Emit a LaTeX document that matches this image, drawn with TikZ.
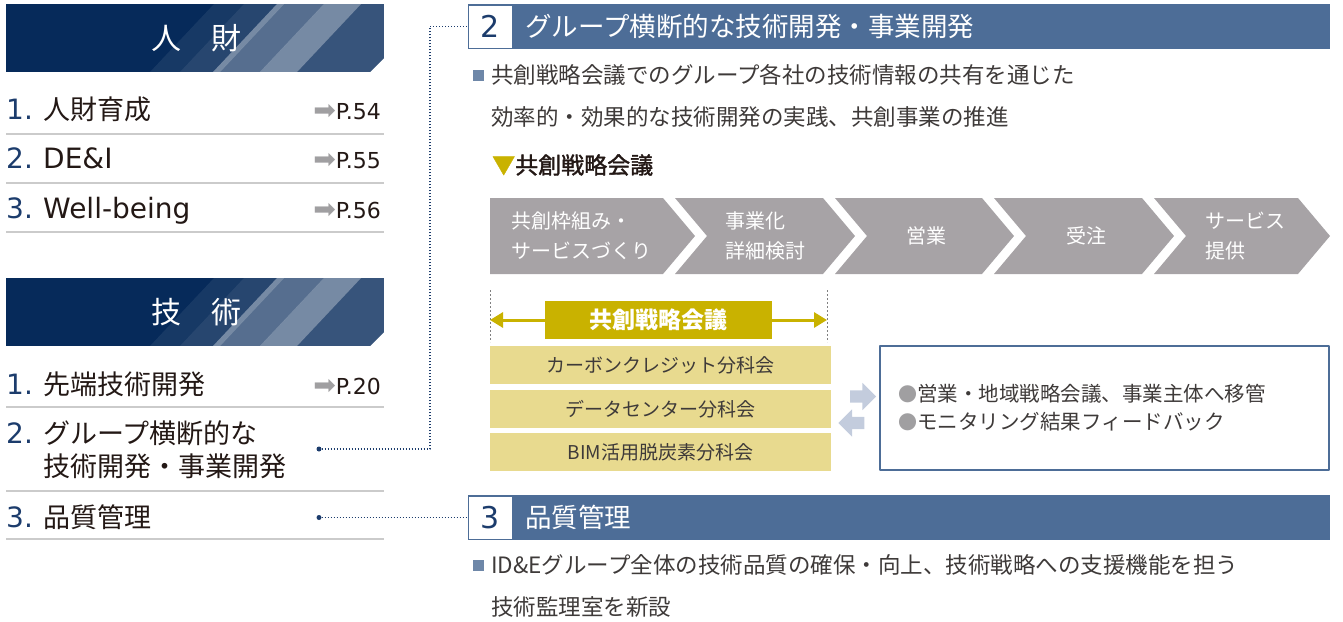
\documentclass[tikz,border=0pt]{standalone}
\usepackage{fontspec}
\setmainfont{Noto Sans CJK JP}
\newfontfamily\latfont{DejaVu Sans}
\newfontfamily\medfont{Noto Sans CJK JP}[FakeBold=1.6]
\usepackage{tikz}
\usetikzlibrary{arrows.meta,shapes.arrows}
\definecolor{navybase}{HTML}{062A5A}
\definecolor{numnavy}{HTML}{1C3C6C}
\definecolor{itemtext}{HTML}{231815}
\definecolor{bodytext}{HTML}{3E3A39}
\definecolor{pagegray}{HTML}{A09FA1}
\definecolor{rulegray}{HTML}{CBCBCB}
\definecolor{headblue}{HTML}{4D6D97}
\definecolor{bulletblue}{HTML}{6E87A8}
\definecolor{councilgold}{HTML}{C9B200}
\definecolor{groupyellow}{HTML}{E8DA8F}
\definecolor{flowgray}{HTML}{A7A3A6}
\definecolor{swapblue}{HTML}{C3CCDD}
\newcommand{\fsz}[2]{\fontsize{#1}{#2}\selectfont}
\newcommand{\pgarrow}{{\fsz{27}{26}\color{pagegray}➡}}
\newcommand{\dotmark}{{\fsz{19}{28}\color{pagegray}●}}

\begin{document}
\begin{tikzpicture}[line join=bevel,x=1pt,y=-1pt,
  every node/.style={inner sep=0pt},
  itemnum/.style={anchor=base west,text=numnavy,font=\latfont\fsz{28}{33}},
  itemtxt/.style={anchor=base west,text=itemtext,font=\fsz{27}{33}},
  itemlat/.style={anchor=base west,text=itemtext,font=\latfont\fsz{28}{33}},
  pageref/.style={anchor=base east,text=itemtext,font=\latfont\fsz{22}{26}},
  itemrule/.style={draw=rulegray,line width=2pt},
  linkdot/.style={circle,fill=numnavy,minimum size=5pt},
  linkline/.style={draw=numnavy,line width=1.2pt,dash pattern=on 1.2pt off 1.8pt},
  headbar/.style={fill=headblue,minimum width=862pt,minimum height=45pt},
  numbox/.style={fill=white,draw=headblue,line width=1pt,minimum width=44pt,minimum height=43pt,text=numnavy,font=\latfont\fsz{30}{34}},
  headtxt/.style={anchor=west,text=white,font=\fsz{26.5}{30}},
  bulletsq/.style={fill=bulletblue,minimum size=11pt},
  bodyline/.style={anchor=west,text=bodytext,font=\fsz{22.5}{28}},
  steptext/.style={text=white,align=left,font=\fsz{20}{30}},
  guide/.style={draw=gray,line width=0.8pt,dash pattern=on 2pt off 2pt},
  goldarrow/.style={draw=councilgold,line width=3pt,-{Triangle[length=13pt,width=15pt]}},
  groupbox/.style={fill=groupyellow,minimum width=341pt,minimum height=38pt,text=bodytext,font=\fsz{19}{23}},
  swaparrow/.style={single arrow,fill=swapblue,inner xsep=0pt,inner ysep=6pt,minimum height=26pt,single arrow head extend=7.5pt}]
\useasboundingbox (0,0) rectangle (1343,621);
%%
% Node: section banners
\foreach \ya/\lbl/\nm in {4/人　財/jinzai,278/技　術/gijutsu}{
  \begin{scope}
    \clip (6,\ya) -- (384,\ya) -- (384,\ya+54) -- (370,\ya+68) -- (6,\ya+68) -- cycle;
    \fill[navybase] (6,\ya) rectangle (384,\ya+68);
    \foreach \a/\b/\op in {150/213/0.07,180/213/0.07,213/220/0.45,220/260/0.32,260/297/0.45,297/420/0.2}
      \fill[white,fill opacity=\op] (\a,\ya+68) -- (\a+64,\ya) -- (\b+64,\ya) -- (\b,\ya+68) -- cycle;
  \end{scope}
  \node[text=white,font=\fsz{30}{36}] (\nm) at (196,\ya+34) {\lbl};
}
% Node: jinzai items
\node[itemnum] (j1n) at (6,119) {1.};
\node[itemtxt] (j1) at (43,119) {人財育成};
\node[pageref] (j1p) at (381,119) {\pgarrow P.54};
\draw[itemrule] (6,134) -- (384,134);
\node[itemnum] (j2n) at (6,168) {2.};
\node[itemlat] (j2) at (43,168) {DE\&I};
\node[pageref] (j2p) at (381,168) {\pgarrow P.55};
\draw[itemrule] (6,183) -- (384,183);
\node[itemnum] (j3n) at (6,218) {3.};
\node[itemlat] (j3) at (43,218) {Well-being};
\node[pageref] (j3p) at (381,218) {\pgarrow P.56};
\draw[itemrule] (6,232) -- (384,232);
% Node: gijutsu items
\node[itemnum] (g1n) at (6,394) {1.};
\node[itemtxt] (g1) at (43,394) {先端技術開発};
\node[pageref] (g1p) at (381,394) {\pgarrow P.20};
\draw[itemrule] (6,407) -- (384,407);
\node[itemnum] (g2n) at (6,443) {2.};
\node[itemtxt] (g2a) at (43,443) {グループ横断的な};
\node[itemtxt] (g2b) at (43,476) {技術開発・事業開発};
\draw[itemrule] (6,491) -- (384,491);
\node[itemnum] (g3n) at (6,527) {3.};
\node[itemtxt] (g3) at (43,527) {品質管理};
\draw[itemrule] (6,539) -- (384,539);
% Node: heading 2
\node[headbar] (head2) at (899,26.5) {};
\node[numbox] (num2) at (490,26.5) {2};
\node[headtxt] (head2txt) at (525,26.5) {グループ横断的な技術開発・事業開発};
\node[bulletsq] (sq2) at (478.5,75) {};
\node[bodyline] (aim1) at (491,75) {共創戦略会議でのグループ各社の技術情報の共有を通じた};
\node[bodyline] (aim2) at (491,117) {効率的・効果的な技術開発の実践、共創事業の推進};
\node[anchor=west,text=itemtext,font=\medfont\fsz{23}{28}] (councilttl) at (492,165) {{\color{councilgold}▼}共創戦略会議};
% Node: flow steps
\fill[flowgray] (490,198) -- (663,198) -- (695,236) -- (663,274) -- (490,274) -- cycle;
\foreach \xl/\xr in {675/823,835/982,994/1142,1154/1298}
  \fill[flowgray] (\xl,198) -- (\xr,198) -- (\xr+32,236) -- (\xr,274) -- (\xl,274) -- (\xl+32,236) -- cycle;
\node[steptext] (step1) at (581,236) {共創枠組み・\\サービスづくり};
\node[steptext] (step2) at (765,236) {事業化\\詳細検討};
\node[steptext] (step3) at (926,236) {営業};
\node[steptext] (step4) at (1086,236) {受注};
\node[steptext] (step5) at (1245,236) {サービス\\提供};
% Node: council span
\draw[guide] (490,290) coordinate (guideL) -- (490,342);
\draw[guide] (827,290) coordinate (guideR) -- (827,342);
\node[fill=councilgold,minimum width=227pt,minimum height=38pt,text=white,font=\bfseries\fsz{23}{28}] (council) at (658.5,320) {共創戦略会議};
% Edge: council -> guides
\draw[goldarrow] (council.west) -- (council.west -| guideL);
\draw[goldarrow] (council.east) -- (council.east -| guideR);
% Node: subcommittees
\node[groupbox] (carbon) at (660.5,365) {カーボンクレジット分科会};
\node[groupbox] (datacenter) at (660.5,409) {データセンター分科会};
\node[groupbox] (bim) at (660.5,452) {BIM活用脱炭素分科会};
% Node: hand-over arrows
\node[swaparrow] (handover) at (860,396.5) {};
\node[swaparrow,shape border rotate=180] (feedback) at (854.5,423) {};
% Node: region box
\node[draw=headblue,line width=1.5pt,minimum width=449pt,minimum height=124pt] (regionbox) at (1104.5,408) {};
\node[anchor=west,align=left,text=bodytext,font=\fsz{20.5}{28}] (regiontxt) at ([xshift=19pt]regionbox.west) {\dotmark 営業・地域戦略会議、事業主体へ移管\\\dotmark モニタリング結果フィードバック};
% Node: heading 3
\node[headbar] (head3) at (899,517.5) {};
\node[numbox] (num3) at (490,517.5) {3};
\node[headtxt] (head3txt) at (525,517.5) {品質管理};
\node[bulletsq] (sq3) at (478.5,565) {};
\node[bodyline] (qa1) at (491,565) {ID\&Eグループ全体の技術品質の確保・向上、技術戦略への支援機能を担う};
\node[bodyline] (qa2) at (491,607) {技術監理室を新設};
% Edge: list -> headings
\node[linkdot] (dot2) at (319,449) {};
\node[linkdot] (dot3) at (319,517.5) {};
\coordinate (bend2) at (430,26.5);
\draw[linkline] (dot2) -| (bend2) -- (num2.west);
\draw[linkline] (dot3) -- (num3.west);
%
\end{tikzpicture}
\end{document}
